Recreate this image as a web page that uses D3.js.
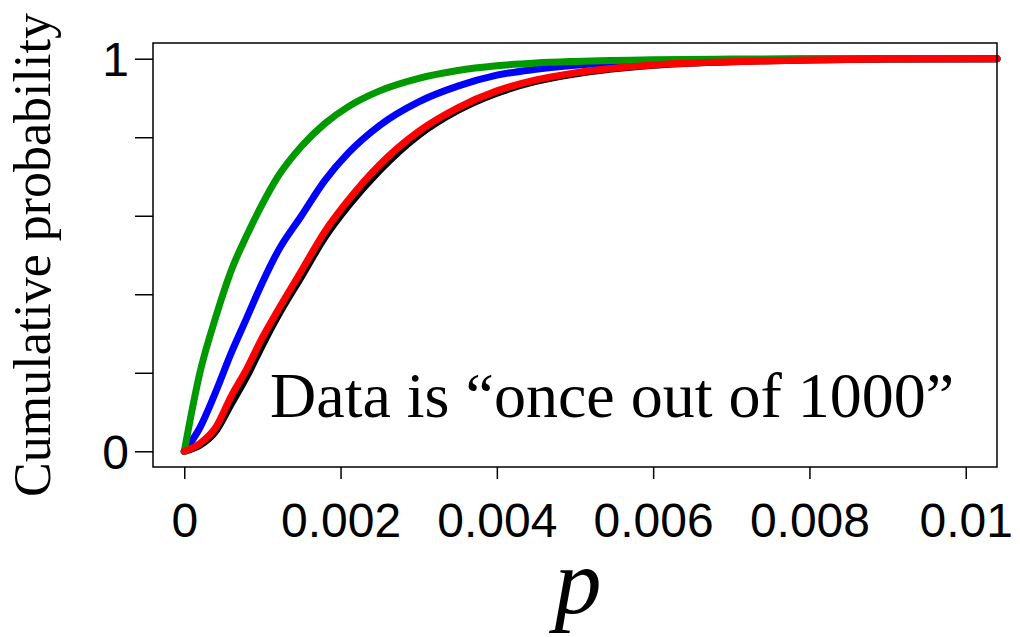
<!DOCTYPE html>
<html>
<head>
<meta charset="utf-8">
<script src="https://cdn.jsdelivr.net/npm/d3@7"></script>
<style>
  body { margin: 0; background: #fff; }
  svg { display: block; }
  .tick text { font-family: "Liberation Sans", Arial, sans-serif; font-size: 48px; fill: #000; }
  .tick line { stroke: #000; stroke-width: 1.5px; }
  .frame { fill: none; stroke: #000; stroke-width: 1.5px; }
  .curve { fill: none; stroke-width: 7px; stroke-linecap: round; stroke-linejoin: round; }
  .serif { font-family: "Liberation Serif", "Times New Roman", serif; fill: #000; }
</style>
</head>
<body>
<svg id="chart" width="1020" height="637"></svg>
<script>
  const pGrid = [0, 0.0002, 0.0004, 0.0006, 0.0008, 0.001, 0.0012, 0.0015, 0.0018, 0.0021,
                 0.0025, 0.003, 0.0035, 0.004, 0.0045, 0.005, 0.006, 0.007, 0.008, 0.009, 0.0104];

  const blackCdf = [0, 0.015, 0.05, 0.12, 0.19, 0.27, 0.345, 0.445, 0.545, 0.625,
                    0.715, 0.805, 0.868, 0.912, 0.942, 0.961, 0.983, 0.992, 0.997, 0.999, 1];
  const blueCdf  = [0, 0.06, 0.15, 0.25, 0.34, 0.43, 0.51, 0.60, 0.69, 0.76,
                    0.83, 0.89, 0.930, 0.958, 0.973, 0.983, 0.993, 0.997, 0.999, 1, 1];
  const greenCdf = [0, 0.20, 0.34, 0.46, 0.55, 0.63, 0.70, 0.777, 0.835, 0.878,
                    0.918, 0.950, 0.970, 0.982, 0.989, 0.993, 0.9975, 0.999, 1, 1, 1];
  const redCdf   = [0, 0.02, 0.06, 0.14, 0.21, 0.29, 0.36, 0.46, 0.56, 0.64,
                    0.73, 0.815, 0.875, 0.918, 0.946, 0.964, 0.984, 0.992, 0.997, 0.999, 1];

  const series = [
    { name: "black", color: "#000000", values: blackCdf },
    { name: "blue",  color: "#0000ff", values: blueCdf },
    { name: "green", color: "#009900", values: greenCdf },
    { name: "red",   color: "#ff0000", values: redCdf }
  ];

  const xTicks = [0, 0.002, 0.004, 0.006, 0.008, 0.01];
  const xTickLabels = ["0", "0.002", "0.004", "0.006", "0.008", "0.01"];
  const yTicks = [0, 0.2, 0.4, 0.6, 0.8, 1];
  const yTickLabels = ["0", "", "", "", "", "1"];

  const box = { left: 153, right: 997, top: 43, bottom: 467 };

  const svg = d3.select("#chart");

  const x = d3.scaleLinear().domain([-0.0004, 0.0104]).range([box.left, box.right]);
  const y = d3.scaleLinear().domain([-0.04, 1.04]).range([box.bottom, box.top]);

  // x axis
  const gx = svg.append("g")
    .attr("transform", `translate(0,${box.bottom})`)
    .call(d3.axisBottom(x)
      .tickValues(xTicks)
      .tickSize(12)
      .tickFormat((d, i) => xTickLabels[i]));
  gx.select(".domain").remove();
  gx.selectAll(".tick text").attr("dy", null).attr("y", 70);

  // y axis
  const gy = svg.append("g")
    .attr("transform", `translate(${box.left},0)`)
    .call(d3.axisLeft(y)
      .tickValues(yTicks)
      .tickSize(18)
      .tickPadding(6)
      .tickFormat((d, i) => yTickLabels[i]));
  gy.select(".domain").remove();
  gy.selectAll(".tick text").attr("dy", null).attr("y", 17);

  // curves
  const line = d3.line()
    .x((d, i) => x(pGrid[i]))
    .y(d => y(d))
    .curve(d3.curveMonotoneX);

  svg.append("g").selectAll("path")
    .data(series)
    .join("path")
    .attr("class", "curve")
    .attr("stroke", d => d.color)
    .attr("d", d => line(d.values));

  // frame
  svg.append("rect")
    .attr("class", "frame")
    .attr("x", box.left).attr("y", box.top)
    .attr("width", box.right - box.left)
    .attr("height", box.bottom - box.top);

  // annotation
  svg.append("text")
    .attr("class", "serif")
    .attr("x", 270).attr("y", 417)
    .attr("font-size", 64)
    .text("Data is \u201conce out of 1000\u201d");

  // axis titles
  svg.append("text")
    .attr("class", "serif")
    .attr("x", 578).attr("y", 613)
    .attr("text-anchor", "middle")
    .attr("font-size", 94)
    .attr("font-style", "italic")
    .text("p");

  svg.append("text")
    .attr("class", "serif")
    .attr("transform", "translate(50,255) rotate(-90)")
    .attr("text-anchor", "middle")
    .attr("font-size", 52)
    .text("Cumulative probability");
</script>
</body>
</html>
